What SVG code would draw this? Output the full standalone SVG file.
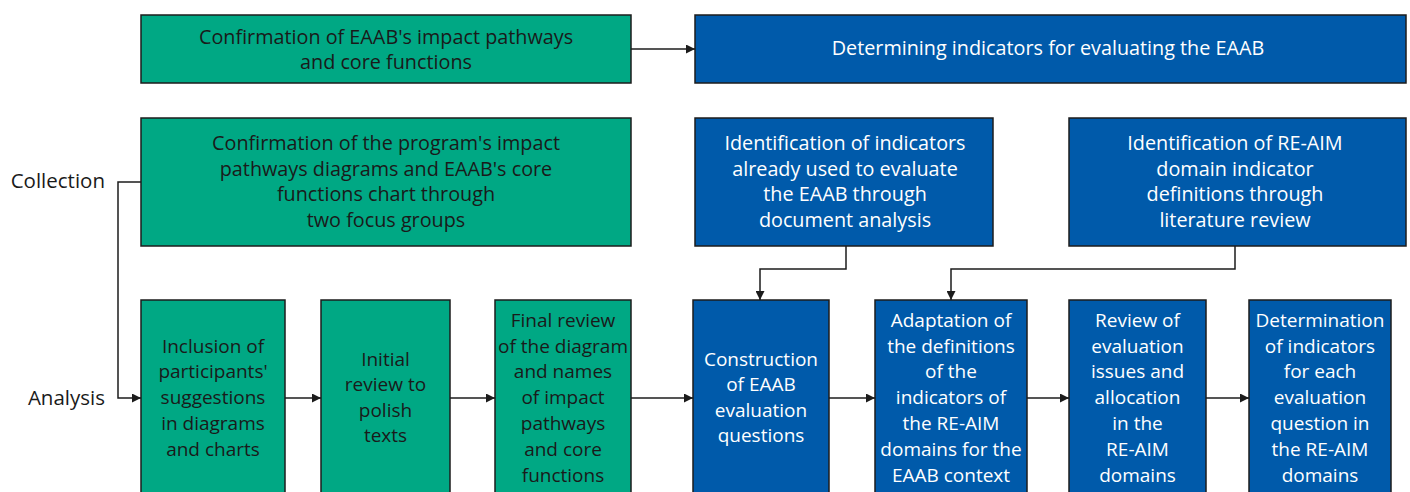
<svg xmlns="http://www.w3.org/2000/svg" width="1410" height="492" viewBox="0 0 1410 492">
<style>
.g{fill:#00a884;stroke:#1c1c1c;stroke-width:1.5}
.b{fill:#005aaa;stroke:#1c1c1c;stroke-width:1.5}
text{font-family:"Open Sans","Noto Sans",sans-serif;font-size:19px;text-anchor:middle}
.big{font-size:19.8px}
.tg{fill:#1a1a1a}
.tb{fill:#ffffff}
.lab{fill:#1a1a1a;text-anchor:end;font-size:20.5px}
.c{fill:none;stroke:#1c1c1c;stroke-width:1.5}
</style>
<defs>
<marker id="ah" viewBox="0 0 10 10" refX="10" refY="5" markerWidth="9" markerHeight="9" markerUnits="userSpaceOnUse" orient="auto">
<path d="M0,0 L10,5 L0,10 z" fill="#1c1c1c"/>
</marker>
</defs>
<g id="labels">
<text class="lab" x="105" y="188">Collection</text>
<text class="lab" x="105" y="405">Analysis</text>
</g>
<g id="n1"><rect class="g" x="141" y="15" width="490" height="68"/>
<text class="tg big"><tspan x="386" y="43.5">Confirmation of EAAB's impact pathways</tspan><tspan x="386" y="68.5">and core functions</tspan></text></g>
<g id="n2"><rect class="b" x="695" y="15" width="711" height="68"/>
<text class="tb big" x="1048" y="55">Determining indicators for evaluating the EAAB</text></g>
<g id="n3"><rect class="g" x="141" y="118" width="490" height="128"/>
<text class="tg big"><tspan x="386" y="150">Confirmation of the program's impact</tspan><tspan x="386" y="176">pathways diagrams and EAAB's core</tspan><tspan x="386" y="201">functions chart through</tspan><tspan x="386" y="227">two focus groups</tspan></text></g>
<g id="n4"><rect class="b" x="695" y="118" width="298" height="128"/>
<text class="tb big"><tspan x="845" y="150">Identification of indicators</tspan><tspan x="845" y="176">already used to evaluate</tspan><tspan x="845" y="201">the EAAB through</tspan><tspan x="845" y="227">document analysis</tspan></text></g>
<g id="n5"><rect class="b" x="1069" y="118" width="337" height="128"/>
<text class="tb big"><tspan x="1235" y="150">Identification of RE-AIM</tspan><tspan x="1235" y="176">domain indicator</tspan><tspan x="1235" y="201">definitions through</tspan><tspan x="1235" y="227">literature review</tspan></text></g>
<g id="b1"><rect class="g" x="141" y="300" width="144" height="196"/>
<text class="tg"><tspan x="213" y="353">Inclusion of</tspan><tspan x="213" y="378">participants'</tspan><tspan x="213" y="404">suggestions</tspan><tspan x="213" y="430">in diagrams</tspan><tspan x="213" y="456">and charts</tspan></text></g>
<g id="b2"><rect class="g" x="321" y="300" width="129" height="196"/>
<text class="tg"><tspan x="385.5" y="366">Initial</tspan><tspan x="385.5" y="391">review to</tspan><tspan x="385.5" y="417">polish</tspan><tspan x="385.5" y="442">texts</tspan></text></g>
<g id="b3"><rect class="g" x="495" y="300" width="136" height="196"/>
<text class="tg"><tspan x="563" y="327">Final review</tspan><tspan x="563" y="353">of the diagram</tspan><tspan x="563" y="378">and names</tspan><tspan x="563" y="404">of impact</tspan><tspan x="563" y="430">pathways</tspan><tspan x="563" y="456">and core</tspan><tspan x="563" y="482">functions</tspan></text></g>
<g id="b4"><rect class="b" x="693" y="300" width="136" height="196"/>
<text class="tb"><tspan x="761" y="366">Construction</tspan><tspan x="761" y="391">of EAAB</tspan><tspan x="761" y="417">evaluation</tspan><tspan x="761" y="442">questions</tspan></text></g>
<g id="b5"><rect class="b" x="875" y="300" width="152" height="196"/>
<text class="tb"><tspan x="951" y="327">Adaptation of</tspan><tspan x="951" y="353">the definitions</tspan><tspan x="951" y="378">of the</tspan><tspan x="951" y="404">indicators of</tspan><tspan x="951" y="430">the RE-AIM</tspan><tspan x="951" y="456">domains for the</tspan><tspan x="951" y="482">EAAB context</tspan></text></g>
<g id="b6"><rect class="b" x="1069" y="300" width="137" height="196"/>
<text class="tb"><tspan x="1137.5" y="327">Review of</tspan><tspan x="1137.5" y="353">evaluation</tspan><tspan x="1137.5" y="378">issues and</tspan><tspan x="1137.5" y="404">allocation</tspan><tspan x="1137.5" y="430">in the</tspan><tspan x="1137.5" y="456">RE-AIM</tspan><tspan x="1137.5" y="482">domains</tspan></text></g>
<g id="b7"><rect class="b" x="1249" y="300" width="142" height="196"/>
<text class="tb"><tspan x="1320" y="327">Determination</tspan><tspan x="1320" y="353">of indicators</tspan><tspan x="1320" y="378">for each</tspan><tspan x="1320" y="404">evaluation</tspan><tspan x="1320" y="430">question in</tspan><tspan x="1320" y="456">the RE-AIM</tspan><tspan x="1320" y="482">domains</tspan></text></g>
<g id="connectors">
<path class="c" d="M631,49 H695" marker-end="url(#ah)"/>
<path class="c" d="M141,182 H118 V398 H141" marker-end="url(#ah)"/>
<path class="c" d="M285,398 H321" marker-end="url(#ah)"/>
<path class="c" d="M450,398 H495" marker-end="url(#ah)"/>
<path class="c" d="M631,398 H693" marker-end="url(#ah)"/>
<path class="c" d="M829,398 H875" marker-end="url(#ah)"/>
<path class="c" d="M1027,398 H1069" marker-end="url(#ah)"/>
<path class="c" d="M1206,398 H1249" marker-end="url(#ah)"/>
<path class="c" d="M846,246 V269 H760 V300" marker-end="url(#ah)"/>
<path class="c" d="M1235,246 V269 H951 V300" marker-end="url(#ah)"/>
</g>
</svg>
